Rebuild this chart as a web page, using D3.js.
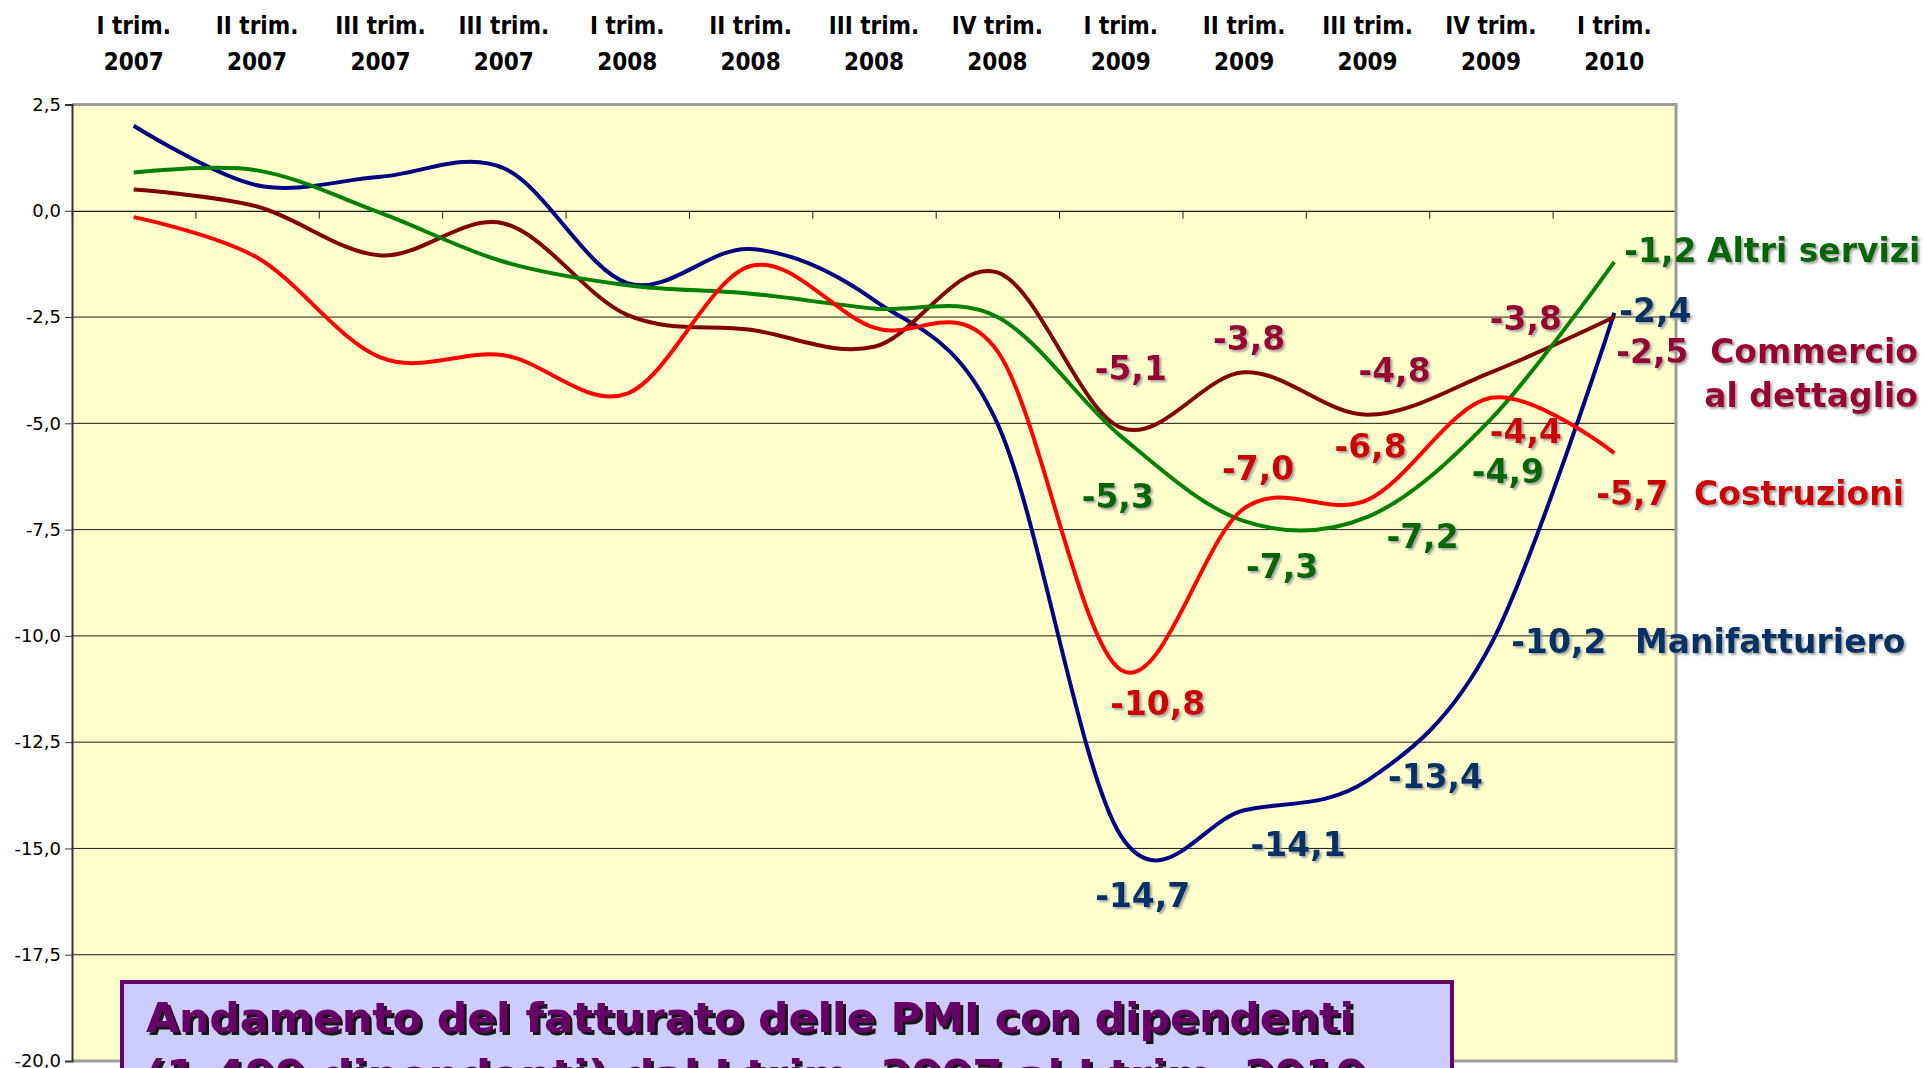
<!DOCTYPE html>
<html lang="it">
<head>
<meta charset="UTF-8">
<title>Andamento del fatturato delle PMI</title>
<script src="https://cdn.jsdelivr.net/npm/d3@7"></script>
<style>
  body { margin: 0; background: #fff; }
  svg { display: block; }
</style>
</head>
<body>
<div id="chart"></div>
<script>
// Categories (top axis, two lines each)
const quarters = ["I trim.", "II trim.", "III trim.", "III trim.", "I trim.", "II trim.", "III trim.",
                  "IV trim.", "I trim.", "II trim.", "III trim.", "IV trim.", "I trim."];
const years = ["2007", "2007", "2007", "2007", "2008", "2008", "2008",
               "2008", "2009", "2009", "2009", "2009", "2010"];

// Series values (variazione %)
const manifatturiero = [2.0, 0.6, 0.8, 1.0, -1.7, -0.9, -2.1, -5.0, -14.7, -14.1, -13.4, -10.2, -2.4];
const commercio      = [0.5, 0.1, -1.05, -0.3, -2.45, -2.8, -3.2, -1.45, -5.1, -3.8, -4.8, -3.8, -2.5];
const costruzioni    = [-0.15, -1.1, -3.45, -3.4, -4.3, -1.3, -2.75, -3.3, -10.8, -7.0, -6.8, -4.4, -5.7];
const altriServizi   = [0.9, 0.95, -0.05, -1.2, -1.75, -1.95, -2.3, -2.5, -5.3, -7.3, -7.2, -4.9, -1.2];

// Y axis ticks
const yTicks = [2.5, 0, -2.5, -5, -7.5, -10, -12.5, -15, -17.5, -20];

// first labelled quarter (I trim. 2009 onward)
const firstLabelled = 8;

const titleLines = ["Andamento del fatturato delle PMI con dipendenti",
                    "(1-499 dipendenti) dal I trim. 2007 al I trim. 2010"];

// ---- layout ----
const W = 1923, H = 1068;
const plot = {left: 72, right: 1676, top: 104.5, bottom: 1061};

// offsets of the value labels from their point (I trim. 2009 .. I trim. 2010),
// names are placed on the baseline of the value label at index `ref`
const series = [
  {key: "Manifatturiero", values: manifatturiero, line: "#000080", label: "#003366",
   offsets: [[22, 71], [54, 46], [68, 8], [68, 9], [41, 9]],
   names: [{text: "Manifatturiero", x: 1635, anchor: "start", ref: 11}]},
  {key: "Commercio", values: commercio, line: "#800000", label: "#990033",
   offsets: [[10, -48], [5, -22], [27, -33], [35, -42], [38, 46]],
   names: [{text: "Commercio", x: 1918, anchor: "end", ref: 12},
           {text: "al dettaglio", x: 1918, anchor: "end", ref: 12, dy: 44}]},
  {key: "Altri servizi", values: altriServizi, line: "#008000", label: "#006600",
   offsets: [[-3, 72], [38, 57], [55, 31], [17, 64], [46, 0]],
   names: [{text: "Altri servizi", x: 1707, anchor: "start", ref: 12}]},
  {key: "Costruzioni", values: costruzioni, line: "#FF0000", label: "#CC0000",
   offsets: [[37, 45], [14, -28], [3, -42], [35, 45], [18, 52]],
   names: [{text: "Costruzioni", x: 1694, anchor: "start", ref: 12}]}
];

const it = d3.formatLocale({decimal: ",", thousands: ".", grouping: [3], currency: ["", " €"], minus: "-"});
const fmt = it.format(".1f");

const svg = d3.select("#chart").append("svg")
    .attr("width", W)
    .attr("height", H);

const defs = svg.append("defs");
defs.append("filter").attr("id", "lblShadow")
    .attr("x", "-10%").attr("y", "-20%").attr("width", "130%").attr("height", "150%")
  .append("feDropShadow")
    .attr("dx", 2).attr("dy", 2).attr("stdDeviation", 0.8)
    .attr("flood-color", "#9a9a9a").attr("flood-opacity", 0.9);
defs.append("filter").attr("id", "titleShadow")
    .attr("x", "-5%").attr("y", "-20%").attr("width", "110%").attr("height", "150%")
  .append("feDropShadow")
    .attr("dx", 3).attr("dy", 3).attr("stdDeviation", 0.3)
    .attr("flood-color", "#111").attr("flood-opacity", 0.95);

const idx = d3.range(quarters.length);

const xBand = d3.scaleBand().domain(idx).range([plot.left, plot.right]);
const x = i => xBand(i) + xBand.bandwidth() / 2;

const y = d3.scaleLinear()
    .domain([-20, 2.5])
    .range([plot.bottom, plot.top]);

// plot background
svg.append("rect")
    .attr("x", plot.left).attr("y", plot.top)
    .attr("width", plot.right - plot.left)
    .attr("height", plot.bottom - plot.top)
    .attr("fill", "#FFFFCC");

// gridlines
svg.append("g")
  .selectAll("line")
  .data(yTicks.filter(d => d > -20 && d < 2.5 && d !== 0))
  .join("line")
    .attr("x1", plot.left).attr("x2", plot.right)
    .attr("y1", d => y(d)).attr("y2", d => y(d))
    .attr("stroke", "#1a1a1a")
    .attr("stroke-width", 1);

// x axis at zero with category ticks
const xAxis = svg.append("g")
    .attr("transform", `translate(0,${y(0)})`)
    .call(d3.axisBottom(d3.scaleLinear().domain([0, quarters.length]).range([plot.left, plot.right]))
      .tickValues(d3.range(1, quarters.length + 1))
      .tickSize(8)
      .tickFormat(""));
xAxis.select(".domain").attr("stroke", "#1a1a1a").attr("stroke-width", 1.2);
xAxis.selectAll(".tick line").attr("stroke", "#1a1a1a");

// frame: gray top / right / bottom, dark left axis
const frame = svg.append("g").attr("fill", "none");
frame.append("line")
    .attr("x1", plot.left).attr("x2", plot.right + 1.5)
    .attr("y1", plot.top).attr("y2", plot.top)
    .attr("stroke", "#9c9c9c").attr("stroke-width", 3);
frame.append("line")
    .attr("x1", plot.right).attr("x2", plot.right)
    .attr("y1", plot.top).attr("y2", plot.bottom + 1.5)
    .attr("stroke", "#9c9c9c").attr("stroke-width", 3);
frame.append("line")
    .attr("x1", plot.left).attr("x2", plot.right + 1.5)
    .attr("y1", plot.bottom).attr("y2", plot.bottom)
    .attr("stroke", "#9c9c9c").attr("stroke-width", 3);

// y axis
const yAxis = svg.append("g")
    .attr("transform", `translate(${plot.left},0)`)
    .call(d3.axisLeft(y).tickValues(yTicks).tickFormat(fmt).tickSize(7).tickPadding(4));
yAxis.select(".domain").attr("stroke", "#333").attr("stroke-width", 2);
yAxis.selectAll(".tick line").attr("stroke", "#333");
yAxis.selectAll("text")
    .attr("fill", "#000")
    .style("font-family", "'DejaVu Sans', Verdana, sans-serif")
    .style("font-size", "18px");

// top category labels
const cat = svg.append("g")
    .style("font-family", "'DejaVu Sans Condensed', 'DejaVu Sans', sans-serif")
    .style("font-stretch", "condensed")
    .style("font-size", "24px")
    .style("font-weight", "bold")
    .attr("text-anchor", "middle")
    .attr("fill", "#000");
idx.forEach(i => {
  const t = cat.append("text").attr("x", x(i));
  t.append("tspan").attr("x", x(i)).attr("y", 34).text(quarters[i]);
  t.append("tspan").attr("x", x(i)).attr("y", 70).text(years[i]);
});

// lines
const line = d3.line()
    .x((d, i) => x(i))
    .y(d => y(d))
    .curve(d3.curveCardinal.tension(0));

series.forEach(s => {
  svg.append("path")
      .datum(s.values)
      .attr("fill", "none")
      .attr("stroke", s.line)
      .attr("stroke-width", 4)
      .attr("stroke-linejoin", "round")
      .attr("d", line);
});

// value labels and series names
const lbl = svg.append("g")
    .style("font-family", "'DejaVu Sans', Verdana, sans-serif")
    .style("font-size", "33px")
    .style("font-weight", "bold")
    .attr("filter", "url(#lblShadow)");

series.forEach(s => {
  s.values.slice(firstLabelled).forEach((v, k) => {
    const i = firstLabelled + k;
    const [dx, dy] = s.offsets[k];
    lbl.append("text")
        .attr("x", x(i) + dx)
        .attr("y", y(v) + dy)
        .attr("text-anchor", "middle")
        .attr("fill", s.label)
        .text(fmt(v));
  });
  s.names.forEach(n => {
    const dy = s.offsets[n.ref - firstLabelled][1];
    lbl.append("text")
        .attr("x", n.x)
        .attr("y", y(s.values[n.ref]) + dy + (n.dy || 0))
        .attr("text-anchor", n.anchor)
        .attr("fill", s.label)
        .text(n.text);
  });
});

// title box
svg.append("rect")
    .attr("x", 122).attr("y", 982)
    .attr("width", 1330).attr("height", 200)
    .attr("fill", "#CCCCFF")
    .attr("stroke", "#660066")
    .attr("stroke-width", 4);

const title = svg.append("g")
    .style("font-family", "'DejaVu Sans', Verdana, sans-serif")
    .style("font-size", "41px")
    .style("font-weight", "bold")
    .attr("fill", "#660066")
    .attr("filter", "url(#titleShadow)");
titleLines.forEach((t, k) => {
  title.append("text")
      .attr("x", 146)
      .attr("y", 1032 + k * 57)
      .attr("textLength", k === 0 ? 1208 : 1220)
      .attr("lengthAdjust", "spacingAndGlyphs")
      .text(t);
});
</script>
</body>
</html>
